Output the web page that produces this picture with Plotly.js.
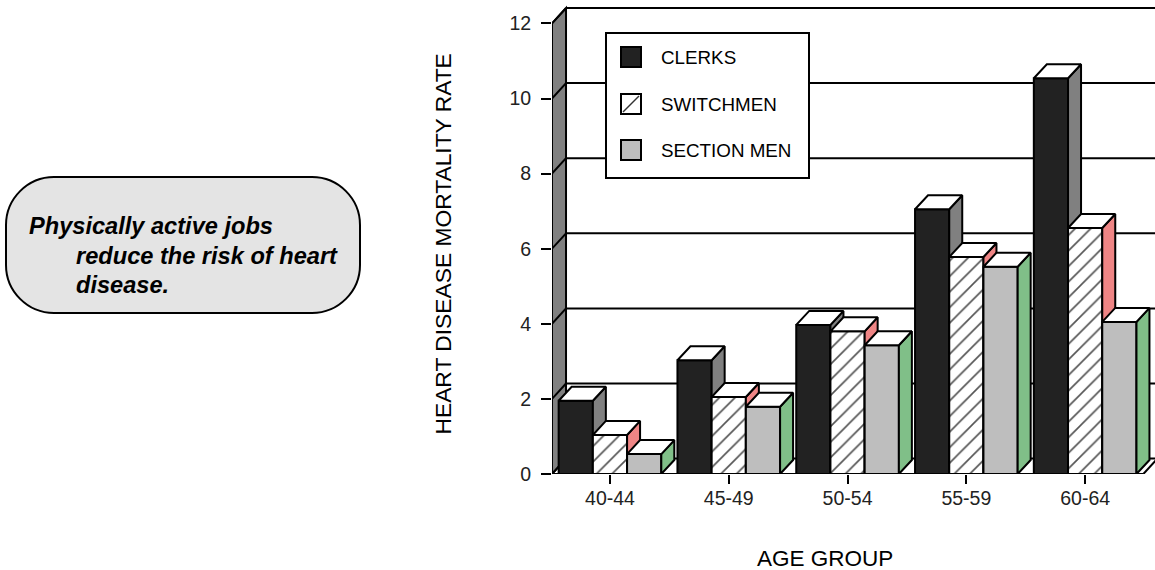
<!DOCTYPE html>
<html>
<head>
<meta charset="utf-8">
<script src="https://cdn.plot.ly/plotly-3.0.1.min.js"></script>
<style>html,body{margin:0;padding:0;background:#fff}#chart{width:1155px;height:570px}</style>
</head>
<body>
<div id="chart"></div>
<script>
// Heart disease mortality by age group and railway occupation
const ageGroups = ['40-44', '45-49', '50-54', '55-59', '60-64'];
const clerks = [1.95, 3.03, 3.97, 7.05, 10.54];
const switchmen = [1.04, 2.05, 3.8, 5.78, 6.55];
const sectionMen = [0.53, 1.79, 3.43, 5.52, 4.05];
const yTicks = [0, 2, 4, 6, 8, 10, 12];

// Plot geometry
const W = 1155, H = 570;
const M = {l: 552, r: 0, t: 5, b: 96};
const xRange = [-0.488, 4.588];
const yRange = [0, 12.49];
const yTop = 12;
const barW = 0.288;
const barDx = 0.1094, barDy = 0.373;     // depth of each bar
const wallDx = 0.118, wallDy = 0.41;     // depth of the floor and side wall
const ink = '#000000';
const font = 'Liberation Sans, Arial, sans-serif';

const series = [
  {name: 'CLERKS', values: clerks, front: '#222222', side: '#808080', yaxis: 'y'},
  {name: 'SWITCHMEN', values: switchmen, front: '#ffffff', side: '#ef8585', yaxis: 'y2',
   pattern: {shape: '/', bgcolor: '#ffffff', fgcolor: '#555555', size: 11, solidity: 0.15}},
  {name: 'SECTION MEN', values: sectionMen, front: '#bebebe', side: '#80bf88', yaxis: 'y3'}
];

const centers = ageGroups.map((_, i) => i);
const data = [];

series.forEach((s, k) => {
  const left = i => i + (k - 1.5) * barW;
  data.push({
    type: 'bar', name: s.name, x: centers, y: s.values, yaxis: s.yaxis,
    width: barW, offset: (k - 1.5) * barW, cliponaxis: false, showlegend: false,
    marker: {color: s.front, line: {color: ink, width: 2}, pattern: s.pattern || {shape: ''}}
  });
  // Right-hand and top faces of the bars
  const sx = [], sy = [], tx = [], ty = [];
  s.values.forEach((v, i) => {
    const r = left(i) + barW;
    sx.push(r, r + barDx, r + barDx, r, r, null);
    sy.push(0, barDy, v + barDy, v, 0, null);
    tx.push(left(i), left(i) + barDx, r + barDx, r, left(i), null);
    ty.push(v, v + barDy, v + barDy, v, v, null);
  });
  const face = (x, y, fill) => ({
    type: 'scatter', mode: 'lines', x, y, yaxis: s.yaxis, fill: 'toself', fillcolor: fill,
    line: {color: ink, width: 2}, cliponaxis: false, showlegend: false, hoverinfo: 'skip'
  });
  data.push(face(sx, sy, s.side));
  data.push(face(tx, ty, '#ffffff'));
});

// Helpers turning page pixels into paper fractions for the legend and callout
const px = x => (x - M.l) / (W - M.l - M.r);
const py = y => 1 - (y - M.t) / (H - M.t - M.b);

const x0 = xRange[0], x1 = 4.49;
const shapes = [];
const dataLine = (xa, ya, xb, yb, width) => shapes.push({
  type: 'line', xref: 'x', yref: 'y', x0: xa, y0: ya, x1: xb, y1: yb, layer: 'below',
  line: {color: ink, width: width || 2}
});
// Back grid lines
yTicks.forEach(t => {
  dataLine(x0 + wallDx, t + wallDy, xRange[1], t + wallDy, 2);
});
// Side wall
shapes.push({
  type: 'path', xref: 'x', yref: 'y', layer: 'below', fillcolor: '#808080', line: {color: ink, width: 2},
  path: `M${x0},0 L${x0},${yTop} L${x0 + wallDx},${yTop + wallDy} L${x0 + wallDx},${wallDy} Z`
});
yTicks.forEach(t => dataLine(x0, t, x0 + wallDx, t + wallDy, 2));
// Floor front edge and its right-hand slant
dataLine(x0, 0, x1, 0, 2);
dataLine(x1, 0, x1 + wallDx, wallDy, 2);

// Legend box and swatches
const rect = (xa, ya, xb, yb, fill, width) => shapes.push({
  type: 'rect', xref: 'paper', yref: 'paper', layer: 'above',
  x0: px(xa), y0: py(ya), x1: px(xb), y1: py(yb), fillcolor: fill, line: {color: ink, width}
});
rect(606, 33, 809, 178, '#ffffff', 2);
const swatchY = [47, 94, 140];
series.forEach((s, k) => rect(621, swatchY[k], 641, swatchY[k] + 20, s.front, 2));
shapes.push({
  type: 'line', xref: 'paper', yref: 'paper', layer: 'above',
  x0: px(623), y0: py(swatchY[1] + 18), x1: px(639), y1: py(swatchY[1] + 2),
  line: {color: '#333333', width: 1.5}
});

// Rounded callout
const bx0 = 6, bx1 = 360, by0 = 177, by1 = 313, rad = 48, c = 0.45 * rad;
const P = (x, y) => `${px(x)},${py(y)}`;
shapes.push({
  type: 'path', xref: 'paper', yref: 'paper', layer: 'above', fillcolor: '#e4e4e4', line: {color: ink, width: 2},
  path: `M${P(bx0 + rad, by0)} L${P(bx1 - rad, by0)} ` +
    `C${P(bx1 - c, by0)} ${P(bx1, by0 + c)} ${P(bx1, by0 + rad)} L${P(bx1, by1 - rad)} ` +
    `C${P(bx1, by1 - c)} ${P(bx1 - c, by1)} ${P(bx1 - rad, by1)} L${P(bx0 + rad, by1)} ` +
    `C${P(bx0 + c, by1)} ${P(bx0, by1 - c)} ${P(bx0, by1 - rad)} L${P(bx0, by0 + rad)} ` +
    `C${P(bx0, by0 + c)} ${P(bx0 + c, by0)} ${P(bx0 + rad, by0)} Z`
});

const annotations = [];
const label = (text, x, y, size, extra) => annotations.push(Object.assign({
  text, xref: 'paper', yref: 'paper', x: px(x), y: py(y), xanchor: 'left', yanchor: 'middle',
  showarrow: false, borderpad: 0, font: {family: font, size, color: '#000000'}
}, extra || {}));
series.forEach((s, k) => label(s.name, 660, swatchY[k] + 10, 18.8));
label('<b><i>Physically active jobs</i></b>', 28, 226, 23.6);
label('<b><i>reduce the risk of heart</i></b>', 75, 255.5, 23.6);
label('<b><i>disease.</i></b>', 75, 285, 23.6);
label('AGE GROUP', 825, 558, 22.5, {xanchor: 'center'});
label('HEART DISEASE MORTALITY RATE', 442, 244.5, 22.8, {xanchor: 'center', textangle: -90});

const overlay = {overlaying: 'y', range: yRange, visible: false, fixedrange: true};

const layout = {
  width: W, height: H, margin: M, paper_bgcolor: '#ffffff', plot_bgcolor: '#ffffff',
  showlegend: false, barmode: 'overlay', font: {family: font, color: '#222222', size: 19.5},
  xaxis: {
    range: xRange, tickmode: 'array', tickvals: centers, ticktext: ageGroups, ticks: 'outside',
    ticklen: 9, tickwidth: 2, tickcolor: ink, showgrid: false, zeroline: false, showline: false,
    fixedrange: true, ticklabelstandoff: -2
  },
  yaxis: {
    range: yRange, tickmode: 'array', tickvals: yTicks, ticks: 'outside', ticklen: 10, tickwidth: 2,
    tickcolor: ink, showgrid: false, zeroline: false, showline: false, fixedrange: true,
    ticklabelstandoff: 6
  },
  yaxis2: overlay, yaxis3: overlay,
  shapes, annotations
};

Plotly.newPlot('chart', data, layout, {displayModeBar: false, staticPlot: true});
</script>
</body>
</html>
